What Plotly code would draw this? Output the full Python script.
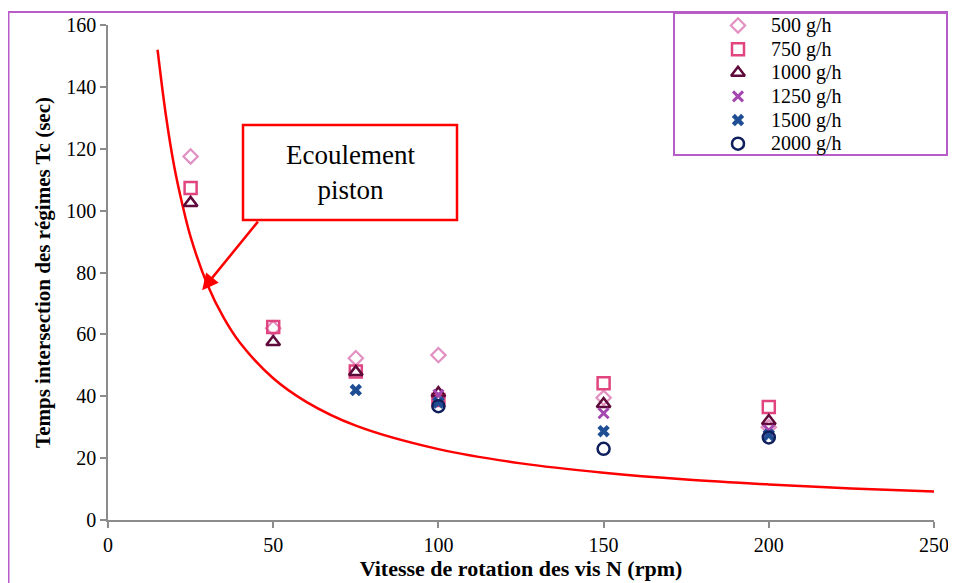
import plotly.graph_objects as go

# ---- data ----
speeds = [25, 50, 75, 100, 150, 200]
tc_500 = [117.5, 62.0, 52.3, 53.3, 39.5, 30.0]
tc_750 = [107.3, 62.4, 48.0, 38.8, 44.2, 36.5]
tc_1000 = [102.5, 57.5, 47.8, 41.0, 37.5, 32.0]
tc_1250 = [None, None, None, 40.5, 34.5, 29.0]
tc_1500 = [None, None, 42.0, 38.0, 28.7, 27.5]
tc_2000 = [None, None, None, 36.8, 23.0, 26.7]

piston_n = [15, 17.5, 20, 22.5, 25, 30, 35, 40, 50, 60, 75, 100, 125, 150, 175, 200, 225, 250]
piston_tc = [152, 131, 114.5, 102, 91.5, 76.3, 65.4, 57.2, 45.8, 38.2, 30.5, 22.9, 18.3, 15.3, 13.1, 11.5, 10.2, 9.2]

x_ticks = [0, 50, 100, 150, 200, 250]
y_ticks = [0, 20, 40, 60, 80, 100, 120, 140, 160]
legend_labels = ["500 g/h", "750 g/h", "1000 g/h", "1250 g/h", "1500 g/h", "2000 g/h"]

FONT = "Liberation Serif"

styles = [
    ("diamond-open", "#e291c2", 11, 2.2),
    ("square-open", "#e0457f", 12, 2.5),
    ("triangle-up-open", "#5e0a3a", 12, 2.5),
    ("x-thin-open", "#a447b0", 10, 3),
    ("x", "#1f4e94", 11, 0),
    ("circle-open", "#0f1f5c", 12, 2.5),
]
values = [tc_500, tc_750, tc_1000, tc_1250, tc_1500, tc_2000]

# plot area in screen pixels (page has 8px body margin)
OFF = 8
PX0, PX1, PY0, PY1 = 108, 934, 520, 25
PW, PH = PX1 - PX0, PY0 - PY1
FW, FH = 956 - OFF, 583 - OFF


def px(x):
    return (x - PX0) / PW


def py(y):
    return (PY0 - y) / PH


fig = go.Figure()
fig.add_trace(go.Scatter(x=piston_n, y=piston_tc, mode="lines",
                         line=dict(color="#ff0000", width=2.5, shape="spline"),
                         showlegend=False, hoverinfo="skip"))
for name, vals, (sym, col, size, lw) in zip(legend_labels, values, styles):
    fig.add_trace(go.Scatter(
        x=speeds, y=vals, mode="markers", name=name, showlegend=False,
        marker=dict(symbol=sym, size=size, color=col,
                    line=dict(color=col, width=lw)),
    ))

# custom legend drawn on an overlay axis measured in screen pixels
annotations = []
for i, (name, (sym, col, size, lw)) in enumerate(zip(legend_labels, styles)):
    row_y = 24 + 24 * i
    fig.add_trace(go.Scatter(
        x=[738], y=[row_y], mode="markers", xaxis="x2", yaxis="y2",
        showlegend=False, hoverinfo="skip", cliponaxis=False,
        marker=dict(symbol=sym, size=size, color=col, line=dict(color=col, width=lw)),
    ))
    annotations.append(dict(xref="x2", yref="y2", x=769, y=row_y, text=name,
                            showarrow=False, xanchor="left", yanchor="middle",
                            font=dict(family=FONT, size=20, color="#000")))

axis_common = dict(showgrid=False, zeroline=False, showline=True, automargin=False,
                   linecolor="#8c8c8c", linewidth=1.5, ticks="outside",
                   ticklen=6, tickcolor="#8c8c8c", tickwidth=1.5,
                   tickfont=dict(family=FONT, size=20, color="#000"))

annotations += [
    dict(xref="paper", yref="paper", x=px(350), y=py(172),
         text="Ecoulement<br>piston", showarrow=False, xanchor="center", yanchor="middle",
         font=dict(family=FONT, size=27, color="#000"), align="center"),
    dict(x=28.5, y=74.3, xref="x", yref="y", text="", showarrow=True,
         ax=57, ay=-70, arrowhead=2, arrowsize=1.3, arrowwidth=2.5,
         arrowcolor="#ff0000"),
]

FRAME = "#b85cc8"

fig.update_layout(
    width=FW, height=FH,
    margin=dict(l=PX0 - OFF, r=FW + OFF - PX1, t=PY1 - OFF, b=FH + OFF - PY0, autoexpand=False),
    paper_bgcolor="white", plot_bgcolor="rgba(0,0,0,0)",
    font=dict(family=FONT, color="#000"),
    xaxis=dict(range=[0, 250], tickvals=x_ticks,
               title=dict(text="<b>Vitesse de rotation des vis N (rpm)</b>",
                          font=dict(family=FONT, size=22), standoff=6),
               **axis_common),
    yaxis=dict(range=[0, 160], tickvals=y_ticks,
               title=dict(text="<b>Temps intersection des régimes Tc (sec)</b>",
                          font=dict(family=FONT, size=21), standoff=10),
               **axis_common),
    xaxis2=dict(domain=[px(674), 1], range=[674, 934], visible=False, fixedrange=True),
    yaxis2=dict(domain=[py(155), 1], range=[155.5, 23.5], visible=False, fixedrange=True),
    showlegend=False,
    shapes=[
        dict(type="rect", xref="paper", yref="paper",
             x0=px(8.5), x1=1.06, y0=-0.2, y1=py(12),
             line=dict(color=FRAME, width=2), layer="below"),
        dict(type="rect", xref="paper", yref="paper",
             x0=px(674), x1=px(947), y0=py(155), y1=py(13),
             line=dict(color=FRAME, width=2), fillcolor="white", layer="below"),
        dict(type="rect", xref="paper", yref="paper",
             x0=px(243), x1=px(457), y0=py(220), y1=py(125),
             line=dict(color="#ff0000", width=2.5), fillcolor="white"),
    ],
    annotations=annotations,
)

fig.write_html("out.html")
